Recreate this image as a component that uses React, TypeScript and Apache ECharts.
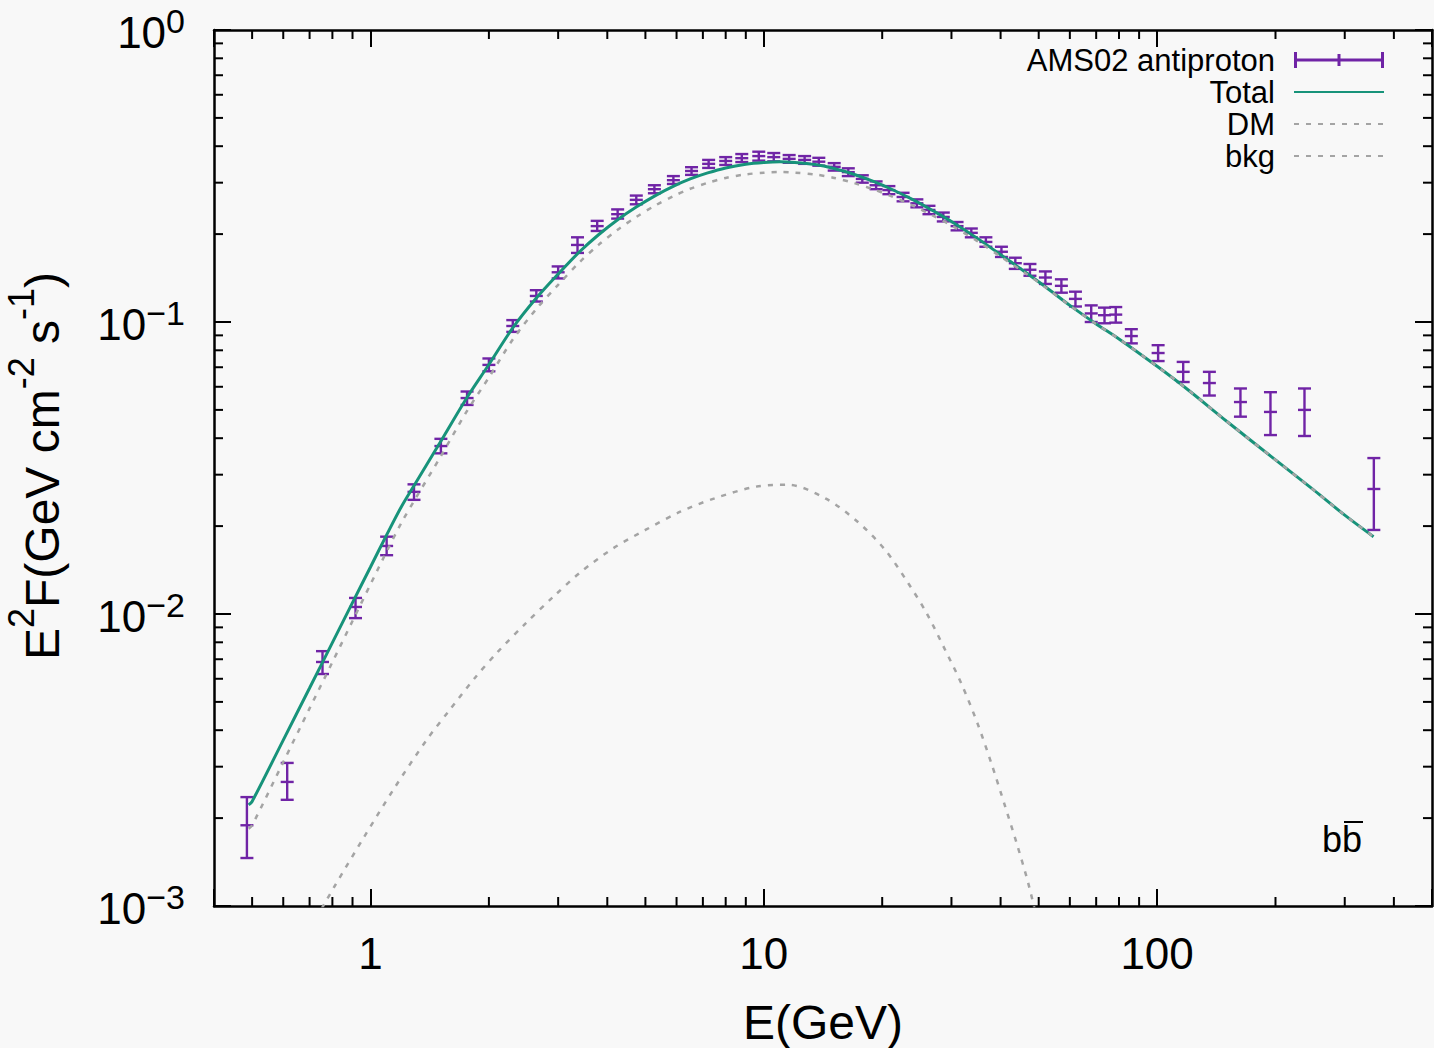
import React, { useEffect, useRef } from "react";
import * as echarts from "echarts";

const FONT = "'Liberation Sans', Arial, Helvetica, sans-serif";

const xRange = [0.4, 500];
const yRange = [0.001, 1];

// AMS02 antiproton data points (E in GeV, E^2 F, lower, upper)
const amsE = [0.485, 0.614, 0.755, 0.916, 1.099, 1.29, 1.51, 1.76, 2.0, 2.3, 2.64, 3.0, 3.36, 3.77, 4.25, 4.74, 5.27, 5.89, 6.55, 7.24, 8.0, 8.79, 9.71, 10.6, 11.6, 12.7, 13.8, 15.1, 16.4, 17.8, 19.3, 20.8, 22.6, 24.5, 26.3, 28.6, 31.0, 33.7, 36.7, 40.2, 43.6, 47.5, 52.0, 57.1, 62.0, 68.0, 73.5, 78.5, 86.0, 100.6, 116.5, 135.8, 162.9, 194.2, 237, 355.7];
const amsF = [0.00189, 0.00266, 0.00685, 0.01057, 0.0171, 0.0262, 0.0376, 0.0549, 0.0713, 0.0969, 0.1228, 0.148, 0.1836, 0.213, 0.234, 0.262, 0.285, 0.306, 0.329, 0.348, 0.356, 0.364, 0.37, 0.367, 0.362, 0.359, 0.354, 0.34, 0.326, 0.309, 0.294, 0.283, 0.268, 0.255, 0.242, 0.229, 0.213, 0.202, 0.188, 0.174, 0.159, 0.151, 0.142, 0.133, 0.12, 0.107, 0.1055, 0.106, 0.0895, 0.0783, 0.0675, 0.0618, 0.0532, 0.0492, 0.05, 0.0268];
const amsLow = [0.00146, 0.00231, 0.00623, 0.00968, 0.0159, 0.0246, 0.0355, 0.052, 0.0678, 0.0925, 0.1175, 0.141, 0.1724, 0.205, 0.226, 0.253, 0.276, 0.297, 0.319, 0.337, 0.345, 0.353, 0.357, 0.355, 0.351, 0.348, 0.343, 0.33, 0.316, 0.3, 0.285, 0.274, 0.259, 0.247, 0.234, 0.221, 0.206, 0.195, 0.181, 0.167, 0.152, 0.144, 0.135, 0.126, 0.113, 0.1, 0.099, 0.0995, 0.0845, 0.0735, 0.0623, 0.056, 0.0474, 0.041, 0.0407, 0.0194];
const amsHigh = [0.00236, 0.00309, 0.00746, 0.01135, 0.0184, 0.0278, 0.0398, 0.0578, 0.075, 0.1015, 0.1285, 0.155, 0.195, 0.222, 0.243, 0.271, 0.294, 0.316, 0.339, 0.359, 0.367, 0.376, 0.383, 0.379, 0.373, 0.37, 0.365, 0.35, 0.336, 0.318, 0.303, 0.292, 0.277, 0.263, 0.25, 0.237, 0.22, 0.209, 0.195, 0.181, 0.166, 0.158, 0.149, 0.14, 0.127, 0.114, 0.112, 0.1125, 0.0945, 0.0833, 0.073, 0.0675, 0.0592, 0.0575, 0.0592, 0.0342];

// Model curves
const modelE = [0.49, 0.5, 0.6, 0.7, 0.8, 0.9, 1.0, 1.1, 1.2, 1.3, 1.5, 1.75, 2.0, 2.3, 2.65, 3.0, 3.4, 3.8, 4.25, 4.75, 5.3, 5.9, 6.5, 7.2, 8.0, 9.0, 10, 11, 12, 13.5, 15, 17, 19, 21, 24, 27, 30, 35, 40, 46, 52, 60, 70, 80, 100, 120, 150, 200, 250, 300, 355];
const totalF = [0.00222, 0.00228, 0.0037, 0.00558, 0.00798, 0.01094, 0.01449, 0.0187, 0.0234, 0.028, 0.0385, 0.0545, 0.0715, 0.0955, 0.1215, 0.146, 0.174, 0.199, 0.224, 0.248, 0.271, 0.292, 0.309, 0.324, 0.337, 0.347, 0.352, 0.354, 0.352, 0.346, 0.336, 0.32, 0.303, 0.286, 0.262, 0.24, 0.221, 0.193, 0.17, 0.149, 0.132, 0.114, 0.0985, 0.0875, 0.0705, 0.0585, 0.0458, 0.0337, 0.0266, 0.0218, 0.0184];
const bkgF = [0.00184, 0.00189, 0.00311, 0.00475, 0.00684, 0.00946, 0.01264, 0.0164, 0.0206, 0.0248, 0.0342, 0.049, 0.0646, 0.0871, 0.1115, 0.1341, 0.1602, 0.1837, 0.2069, 0.2293, 0.2507, 0.2701, 0.2859, 0.2996, 0.3114, 0.3203, 0.3245, 0.3263, 0.3247, 0.3201, 0.3121, 0.2989, 0.2846, 0.2703, 0.25, 0.2308, 0.2141, 0.1888, 0.1675, 0.1477, 0.1315, 0.1138, 0.0984, 0.0875, 0.0705, 0.0585, 0.0458, 0.0337, 0.0266, 0.0218, 0.0184];
const dmE = [0.7, 0.809, 0.964, 1.149, 1.388, 1.589, 1.842, 2.109, 2.48, 2.917, 3.43, 4.14, 5.0, 6.13, 7.5, 9.56, 11.56, 14.34, 17.32, 20.36, 23.3, 25.96, 28.92, 31.79, 34.94, 37.9, 41.1, 43.95, 47.01, 50];
const dmF = [0.00083, 0.001164, 0.001727, 0.00253, 0.0037, 0.00469, 0.00604, 0.00743, 0.00929, 0.01146, 0.01395, 0.01679, 0.0194, 0.0224, 0.0249, 0.0273, 0.0277, 0.0249, 0.0207, 0.01656, 0.01274, 0.01005, 0.00753, 0.00578, 0.00422, 0.00308, 0.00219, 0.00164, 0.0012, 0.00085];

const xMinorTicks = [0.5, 0.6, 0.7, 0.8, 0.9, 2, 3, 4, 5, 6, 7, 8, 9, 20, 30, 40, 50, 60, 70, 80, 90, 200, 300, 400];
const yMinorTicks = [0.002, 0.003, 0.004, 0.005, 0.006, 0.007, 0.008, 0.009, 0.02, 0.03, 0.04, 0.05, 0.06, 0.07, 0.08, 0.09, 0.2, 0.3, 0.4, 0.5, 0.6, 0.7, 0.8, 0.9];

const legendNames = ["AMS02 antiproton", "Total", "DM", "bkg"];
const xTitle = "E(GeV)";
const channelLabel = "bb";

const C_DATA = "#7024a6";
const C_TOTAL = "#17937a";
const C_DASH = "#a4a4a4";

const isPow10 = (v: number) => {
  const e = Math.log10(v);
  return Math.abs(e - Math.round(e)) < 1e-6;
};

export default function App() {
  const ref = useRef<HTMLDivElement>(null);

  useEffect(() => {
    if (!ref.current) return;
    const chart = echarts.init(ref.current, null, { renderer: "svg" });

    const axisLine = { show: true, lineStyle: { color: "#000", width: 2.5 } };
    const axisTick = { show: true, inside: true, length: 17, lineStyle: { color: "#000", width: 2 } };

    const tickStyle = { stroke: "#000", lineWidth: 2 };
    const noSymbol = { color: "rgba(0,0,0,0)", borderWidth: 0, opacity: 0 };

    const option: any = {
      animation: false,
      backgroundColor: "#f8f8f8",
      grid: { left: 214, right: 2, top: 30, bottom: 142, containLabel: false, outerBoundsMode: "none" },
      legend: {
        orient: "vertical",
        right: 49,
        top: 44,
        align: "right",
        padding: 0,
        itemWidth: 90,
        itemHeight: 18,
        itemGap: 0,
        selectedMode: false,
        textStyle: { fontSize: 31, lineHeight: 32, fontFamily: FONT, color: "#000", padding: [0, 14, 0, 0] },
        data: [
          { name: legendNames[0], icon: "path://M0,7.5h90v3h-90z M0,1h3v16h-3z M87,1h3v16h-3z M43.5,3h3v12h-3z" },
          { name: legendNames[1], itemStyle: noSymbol },
          { name: legendNames[2], itemStyle: noSymbol },
          { name: legendNames[3], itemStyle: noSymbol },
        ],
      },
      xAxis: [
        {
          type: "log",
          logBase: 10,
          min: xRange[0],
          max: xRange[1],
          position: "bottom",
          axisLine,
          axisTick,
          splitLine: { show: false },
          minorTick: { show: false },
          axisLabel: {
            show: true,
            margin: 25,
            fontSize: 44,
            lineHeight: 44,
            fontFamily: FONT,
            color: "#000",
            formatter: (v: number) => (isPow10(v) ? String(Math.round(v)) : ""),
          },
          name: xTitle,
          nameLocation: "middle",
          nameGap: 92,
          nameTextStyle: { fontSize: 48, lineHeight: 48, fontFamily: FONT, color: "#000" },
        },
        {
          type: "log",
          logBase: 10,
          min: xRange[0],
          max: xRange[1],
          position: "top",
          axisLine,
          axisTick,
          splitLine: { show: false },
          axisLabel: { show: false },
        },
      ],
      yAxis: [
        {
          type: "log",
          logBase: 10,
          min: yRange[0],
          max: yRange[1],
          position: "left",
          axisLine,
          axisTick,
          splitLine: { show: false },
          axisLabel: {
            show: true,
            margin: 29,
            padding: [4, 0, 0, 0],
            formatter: (v: number) => {
              if (!isPow10(v)) return "";
              const e = Math.round(Math.log10(v));
              const s = e < 0 ? "\u2212" + String(-e) : String(e);
              return "{b|10}{s|" + s + "}";
            },
            rich: {
              b: { fontSize: 44, lineHeight: 56, fontFamily: FONT, color: "#000" },
              s: { fontSize: 34, lineHeight: 18, fontFamily: FONT, color: "#000", verticalAlign: "top" },
            },
          },
        },
        {
          type: "log",
          logBase: 10,
          min: yRange[0],
          max: yRange[1],
          position: "right",
          axisLine,
          axisTick,
          splitLine: { show: false },
          axisLabel: { show: false },
        },
      ],
      series: [
        {
          type: "custom",
          name: "xminor",
          silent: true,
          z: 6,
          data: xMinorTicks.map((v) => [v, yRange[0]]),
          renderItem: (_p: any, api: any) => {
            const v = api.value(0);
            const b = api.coord([v, yRange[0]]);
            const t = api.coord([v, yRange[1]]);
            return {
              type: "group",
              children: [
                { type: "line", shape: { x1: b[0], y1: b[1], x2: b[0], y2: b[1] - 9 }, style: tickStyle },
                { type: "line", shape: { x1: t[0], y1: t[1], x2: t[0], y2: t[1] + 9 }, style: tickStyle },
              ],
            };
          },
        },
        {
          type: "custom",
          name: "yminor",
          silent: true,
          z: 6,
          data: yMinorTicks.map((v) => [xRange[0], v]),
          renderItem: (_p: any, api: any) => {
            const v = api.value(1);
            const l = api.coord([xRange[0], v]);
            const r = api.coord([xRange[1], v]);
            return {
              type: "group",
              children: [
                { type: "line", shape: { x1: l[0], y1: l[1], x2: l[0] + 9, y2: l[1] }, style: tickStyle },
                { type: "line", shape: { x1: r[0], y1: r[1], x2: r[0] - 9, y2: r[1] }, style: tickStyle },
              ],
            };
          },
        },
        {
          type: "custom",
          name: legendNames[0],
          z: 3,
          itemStyle: { color: C_DATA },
          dimensions: ["E", "F", "low", "high"],
          encode: { x: 0, y: 1 },
          data: amsE.map((e, i) => [e, amsF[i], amsLow[i], amsHigh[i]]),
          renderItem: (_p: any, api: any) => {
            const x = api.value(0);
            const c = api.coord([x, api.value(1)]);
            const lo = api.coord([x, api.value(2)]);
            const hi = api.coord([x, api.value(3)]);
            const w = 6.5;
            const st = { stroke: C_DATA, lineWidth: 2.4, fill: null };
            return {
              type: "group",
              children: [
                { type: "line", shape: { x1: lo[0], y1: lo[1], x2: hi[0], y2: hi[1] }, style: st },
                { type: "line", shape: { x1: lo[0] - w, y1: lo[1], x2: lo[0] + w, y2: lo[1] }, style: st },
                { type: "line", shape: { x1: hi[0] - w, y1: hi[1], x2: hi[0] + w, y2: hi[1] }, style: st },
                { type: "line", shape: { x1: c[0] - w, y1: c[1], x2: c[0] + w, y2: c[1] }, style: st },
              ],
            };
          },
        },
        {
          type: "line",
          name: legendNames[1],
          z: 4,
          symbol: "none",
          smooth: 0.3,
          clip: true,
          lineStyle: { color: C_TOTAL, width: 3 },
          itemStyle: { color: C_TOTAL },
          data: modelE.map((e, i) => [e, totalF[i]]),
        },
        {
          type: "line",
          name: legendNames[2],
          z: 4,
          symbol: "none",
          smooth: 0.3,
          clip: true,
          lineStyle: { color: C_DASH, width: 2.5, type: [5, 7] },
          itemStyle: { color: C_DASH },
          data: dmE.map((e, i) => [e, dmF[i]]),
        },
        {
          type: "line",
          name: legendNames[3],
          z: 5,
          symbol: "none",
          smooth: 0.3,
          clip: true,
          lineStyle: { color: C_DASH, width: 2.5, type: [5, 7] },
          itemStyle: { color: C_DASH },
          data: modelE.map((e, i) => [e, bkgF[i]]),
        },
      ],
      graphic: [
        {
          type: "text",
          x: 42,
          y: 466,
          rotation: Math.PI / 2,
          style: {
            text: "{b|E}{s|2}{b|F(GeV cm}{s|-2}{b| s}{s|-1}{b|)}",
            align: "center",
            verticalAlign: "middle",
            fill: "#000",
            rich: {
              b: { fontSize: 48, lineHeight: 78, fontFamily: FONT, fill: "#000" },
              s: { fontSize: 36, lineHeight: 36, fontFamily: FONT, fill: "#000", verticalAlign: "top" },
            },
          },
        },
        {
          type: "text",
          x: 1322,
          y: 839,
          style: { text: channelLabel, fontSize: 36, fontFamily: FONT, fill: "#000", align: "left", verticalAlign: "middle" },
        },
        {
          type: "line",
          shape: { x1: 1344, y1: 822, x2: 1363, y2: 822 },
          style: { stroke: "#000", lineWidth: 2 },
        },
      ],
    };

    chart.setOption(option);
    return () => chart.dispose();
  }, []);

  return <div ref={ref} style={{ position: "absolute", left: 0, top: 0, width: 1434, height: 1048 }} />;
}
